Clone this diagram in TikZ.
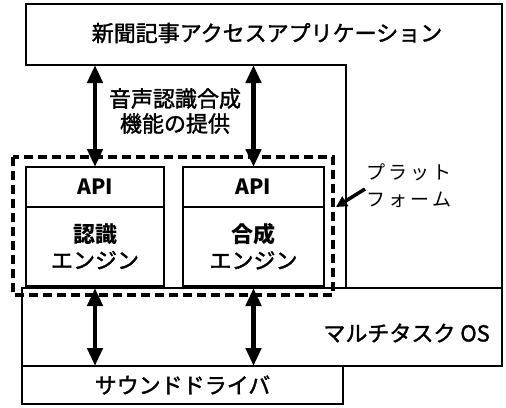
\documentclass[tikz,border=0pt]{standalone}
\usepackage{fontspec}
\setmainfont{Noto Sans CJK JP}
\setsansfont{Noto Sans CJK JP}
\newfontfamily\jpmed[FakeBold=1.6]{Noto Sans CJK JP}
\newfontfamily\jplight{Noto Sans CJK JP}
\usetikzlibrary{arrows.meta}
\tikzset{
  box/.style={draw, line width=1.8pt, rectangle, inner sep=0pt, outer sep=0pt, anchor=north west},
  lbl/.style={font=\fontsize{22}{25}\selectfont\jpmed, inner sep=0pt, align=center},
  boldlbl/.style={font=\fontsize{21}{25}\selectfont\bfseries},
  dbl/.style={line width=4.5pt, {Triangle[length=18pt,width=15pt]}-{Triangle[length=18pt,width=15pt]}, shorten <=0pt, shorten >=0pt},
  pointer/.style={line width=3.5pt, -{Triangle[length=11pt,width=11pt]}},
  platform/.style={draw, line width=3.6pt, dash pattern=on 9pt off 5pt},
}
\begin{document}
\begin{tikzpicture}[x=1pt,y=-1pt]
\useasboundingbox[fill=white] (0,0) rectangle (506,407);
% application (L-shaped)
\draw[line width=1.8pt] (26,4) -- (502,4) -- (502,288) -- (346,288) -- (346,65) -- (26,65) -- cycle;
\coordinate (appbot) at (26,65);
\node[lbl] (apptitle) at (267,33) {新聞記事アクセスアプリケーション};
% OS and sound driver
\node[box, minimum width=480pt, minimum height=78pt] (os) at (22,288) {};
\node[lbl, anchor=east] (oslabel) at (490,333) {マルチタスク OS};
\node[box, minimum width=321pt, minimum height=38pt, lbl, anchor=north west] (snd) at (22,366) {サウンドドライバ};
% engines
\node[box, minimum width=138pt, minimum height=40pt, lbl, boldlbl] (api1) at (26,167) {API};
\node[box, minimum width=138pt, minimum height=79pt, lbl] (eng1) at (26,207) {{\jplight\bfseries 認識}\\[1pt]エンジン};
\node[box, minimum width=141pt, minimum height=40pt, lbl, boldlbl] (api2) at (183,167) {API};
\node[box, minimum width=141pt, minimum height=79pt, lbl] (eng2) at (183,207) {{\jplight\bfseries 合成}\\[1pt]エンジン};
% platform dashed frame
\draw[platform] (13,157) rectangle (333,295);
\coordinate (platedge) at (336,207);
% arrows
\draw[dbl] (api1.north |- appbot) -- (api1.north);
\draw[dbl] (api2.north |- appbot) -- (api2.north);
\draw[dbl] (eng1.south |- os.north) -- (eng1.south |- snd.north);
\draw[dbl] (eng2.south |- os.north) -- (eng2.south |- snd.north);
% labels
\node[lbl, align=center] (func) at (175,111) {音声認識合成\\機能の提供};
\node[lbl, font=\fontsize{19}{27}\selectfont\jplight, align=left, anchor=north west] (plat) at (366,164) {プ\,ラ\,ッ\,ト\\フ\,ォ\,ー\,ム};
\coordinate (plattail) at (365,189);
\draw[pointer] (plattail) -- (platedge);
\end{tikzpicture}
\end{document}
